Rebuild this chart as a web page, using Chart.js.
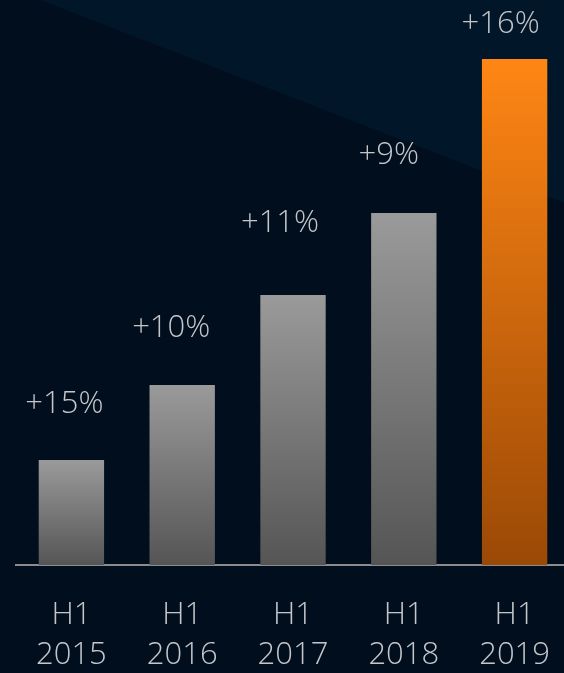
<!DOCTYPE html>
<html>
<head>
<meta charset="utf-8">
<script src="https://cdn.jsdelivr.net/npm/chart.js@4"></script>
<style>
  html, body { margin: 0; padding: 0; background: #000e1d; overflow: hidden; }
  #wrap { width: 580px; height: 673px; }
</style>
</head>
<body>
<div id="wrap"><canvas id="myChart"></canvas></div>
<script>
// Chart data
const periods = [['H1', '2015'], ['H1', '2016'], ['H1', '2017'], ['H1', '2018'], ['H1', '2019']];
const values = [105, 180, 270, 352, 506];
const growthLabels = ['+15%', '+10%', '+11%', '+9%', '+16%'];

const ctx = document.getElementById('myChart');

// gradient from the top of each bar down to the baseline
function barGradient(context) {
  const chart = context.chart;
  const yScale = chart.scales.y;
  const last = context.dataIndex === values.length - 1;
  if (!yScale || context.dataIndex === undefined) return last ? '#e8760f' : '#777';
  const top = yScale.getPixelForValue(values[context.dataIndex]);
  const bottom = yScale.getPixelForValue(0);
  if (!isFinite(top) || !isFinite(bottom)) return last ? '#e8760f' : '#777';
  const g = chart.ctx.createLinearGradient(0, top, 0, bottom);
  if (last) {
    g.addColorStop(0, '#ff8614');
    g.addColorStop(1, '#9b4906');
  } else {
    g.addColorStop(0, '#9a9a9a');
    g.addColorStop(1, '#555555');
  }
  return g;
}

// dark background with the lighter diagonal band in the top right
const backdrop = {
  id: 'backdrop',
  beforeDraw(chart) {
    const c = chart.ctx;
    const w = chart.width, h = chart.height;
    c.save();
    c.fillStyle = '#000e1d';
    c.fillRect(0, 0, w, h);
    c.fillStyle = '#011629';
    c.beginPath();
    c.moveTo(40, 0);
    c.lineTo(w, 0);
    c.lineTo(w, 203 + (w - 564) * 0.38);
    c.closePath();
    c.fill();
    c.restore();
  }
};

// growth labels above the bars
const growthText = {
  id: 'growthText',
  afterDatasetsDraw(chart, args, opts) {
    const c = chart.ctx;
    const meta = chart.getDatasetMeta(0);
    c.save();
    c.font = '300 31px "Open Sans"';
    c.fillStyle = '#c4c6c9';
    c.textAlign = 'center';
    c.textBaseline = 'middle';
    meta.data.forEach((bar, i) => {
      c.fillText(growthLabels[i], bar.x + (opts.shift[i] || 0), bar.y - opts.gap[i]);
    });
    c.restore();
  }
};

new Chart(ctx, {
  type: 'bar',
  plugins: [backdrop, growthText],
  data: {
    labels: periods,
    datasets: [{
      data: values,
      backgroundColor: barGradient,
      borderWidth: 0,
      barPercentage: 0.59,
      categoryPercentage: 1
    }]
  },
  options: {
    responsive: true,
    maintainAspectRatio: false,
    animation: false,
    layout: { padding: { left: 16, top: 0, right: 0, bottom: 0 } },
    scales: {
      y: {
        display: false,
        min: 0,
        max: 565
      },
      x: {
        grid: { display: false, drawTicks: false },
        border: { display: true, color: '#8a8c8f', width: 2 },
        afterFit(scale) { scale.height = 108; },
        ticks: {
          color: '#c4c6c9',
          padding: 30,
          font: { family: 'Open Sans', size: 31, weight: '300', lineHeight: 1.3 }
        }
      }
    },
    plugins: {
      legend: { display: false },
      tooltip: { enabled: false },
      growthText: {
        gap: [56, 57, 72, 58, 35],
        shift: [-7, -11, -13, -15, -14]
      }
    }
  }
});
</script>
</body>
</html>
